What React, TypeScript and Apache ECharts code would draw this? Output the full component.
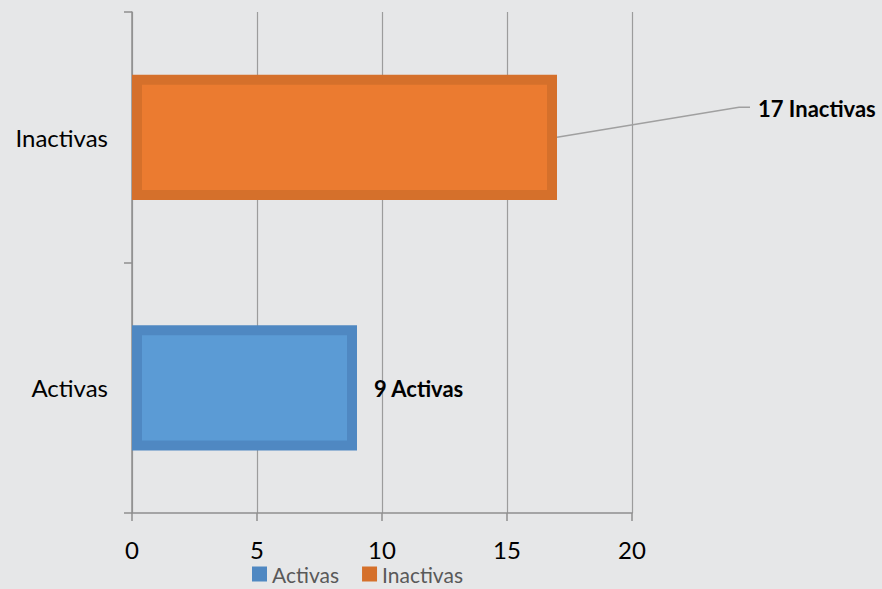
import React, { useEffect, useRef } from "react";
import * as echarts from "echarts";

const categories = ["Activas", "Inactivas"];
const values = [9, 17];
const axisMin = 0;
const axisMax = 20;
const axisStep = 5;

const fillColors = ["#5b9bd5", "#eb7b30"];
const edgeColors = ["#4f88c2", "#d5702b"];
const FONT = "Lato, 'Open Sans', sans-serif";

export default function App() {
  const ref = useRef<HTMLDivElement>(null);

  useEffect(() => {
    if (!ref.current) return;
    const chart = echarts.init(ref.current, undefined, { renderer: "svg" });

    const series = categories.map((name, i) => ({
      type: "custom",
      name,
      data: [[values[i], i]],
      encode: { x: 0, y: 1 },
      itemStyle: { color: edgeColors[i] },
      clip: false,
      renderItem: (params: any, api: any) => {
        const v = api.value(0);
        const c = api.value(1);
        const p0 = api.coord([0, c]);
        const p1 = api.coord([v, c]);
        const band = api.size([0, 1])[1];
        const h = band * 0.5;
        const top = p0[1] - h / 2;
        const w = p1[0] - p0[0];
        const cy = p0[1];
        const children: any[] = [
          { type: "rect", shape: { x: p0[0], y: top, width: w, height: h }, style: { fill: edgeColors[i] } },
          { type: "rect", shape: { x: p0[0] + 10, y: top + 10, width: w - 20, height: h - 20 }, style: { fill: fillColors[i] } },
        ];
        const labelText = `${v} ${name}`;
        if (i === 0) {
          children.push({
            type: "text",
            x: p1[0] + 17,
            y: cy + 1,
            style: { text: labelText, fill: "#000", font: `bold 22px ${FONT}`, verticalAlign: "middle", align: "left" },
          });
        } else {
          children.push({
            type: "polyline",
            shape: { points: [[p1[0], cy], [p1[0] + 182, cy - 30], [p1[0] + 193, cy - 30]] },
            style: { stroke: "#a0a0a0", lineWidth: 1.5, fill: null },
          });
          children.push({
            type: "text",
            x: p1[0] + 201,
            y: cy - 29,
            style: { text: labelText, fill: "#000", font: `bold 22px ${FONT}`, verticalAlign: "middle", align: "left" },
          });
        }
        return { type: "group", children };
      },
    }));

    chart.setOption({
      animation: false,
      backgroundColor: "#e6e7e8",
      textStyle: { fontFamily: FONT },
      grid: { left: 132, top: 12, right: 250, bottom: 76, containLabel: false },
      legend: {
        data: categories,
        left: 252,
        top: 563,
        padding: 0,
        icon: "rect",
        itemWidth: 15,
        itemHeight: 15,
        itemGap: 23,
        textStyle: { color: "#595959", fontSize: 21, fontFamily: FONT, lineHeight: 22 },
      },
      xAxis: {
        type: "value",
        min: axisMin,
        max: axisMax,
        interval: axisStep,
        axisLine: { show: true, lineStyle: { color: "#8f8f8f", width: 1.5 } },
        axisTick: { show: true, length: 8, lineStyle: { color: "#8f8f8f", width: 1.5 } },
        splitLine: { show: true, lineStyle: { color: "#9c9c9c", width: 1.2 } },
        axisLabel: { color: "#000", fontSize: 24, margin: 24, fontFamily: FONT },
      },
      yAxis: {
        type: "category",
        data: categories,
        axisLine: { show: true, lineStyle: { color: "#8f8f8f", width: 1.5 } },
        axisTick: { show: true, length: 8, lineStyle: { color: "#8f8f8f", width: 1.5 } },
        splitLine: { show: false },
        axisLabel: { color: "#000", fontSize: 24, margin: 24, fontFamily: FONT },
      },
      series,
    });

    return () => chart.dispose();
  }, []);

  return (
    <div
      ref={ref}
      style={{ position: "fixed", left: 0, top: 0, width: 882, height: 589 }}
    />
  );
}
